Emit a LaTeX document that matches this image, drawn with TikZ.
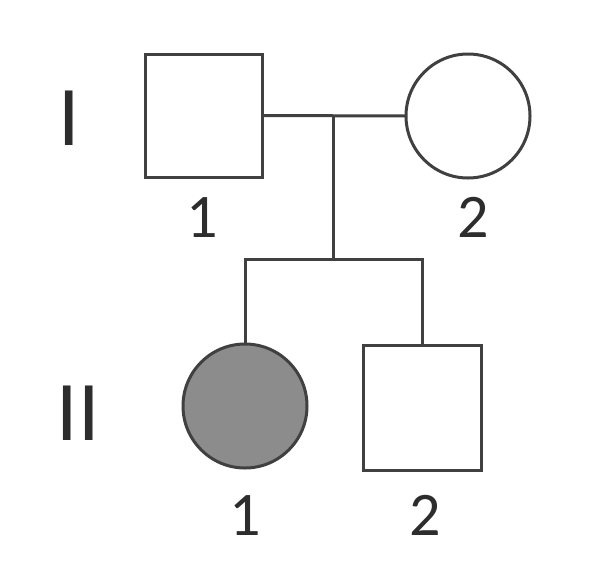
\documentclass[tikz,border=0pt]{standalone}
\usepackage{fontspec}
\setmainfont{Carlito}
\definecolor{linegray}{RGB}{64,64,64}
\definecolor{affgray}{RGB}{140,140,140}
\definecolor{textgray}{RGB}{45,45,45}

\begin{document}
\begin{tikzpicture}[x=1pt,y=-1pt,
    every node/.style={inner sep=0pt,outer sep=0pt},
    male/.style={draw=linegray,line width=3pt,rectangle,fill=white},
    female/.style={draw=linegray,line width=3pt,circle,fill=white,minimum size=124pt},
    link/.style={draw=linegray,line width=3pt},
    numlabel/.style={anchor=base,text=textgray,font=\fontsize{62}{62}\selectfont},
    genlabel/.style={anchor=base,text=textgray,font=\fontsize{85}{85}\selectfont}]
    \useasboundingbox[fill=white] (0,0) rectangle (591,579);
    % generation I
    \node[male,minimum width=117pt,minimum height=123pt] (m1) at (203.5,115.5) {};
    \node[female] (f2) at (468,116) {};
    % generation II
    \node[female,fill=affgray] (d1) at (245,406) {};
    \node[male,minimum width=118pt,minimum height=125pt] (s2) at (422,407.5) {};
    \coordinate (mid) at (333,116);
    \coordinate (sib) at (333,259);
    \draw[link] (m1.east) -- (f2.west);
    \draw[link] (mid) -- (sib);
    \draw[link] (d1.north) |- (sib) -| (s2.north);
    % labels
    \node[genlabel] (g1) at (69,145) {I};
    \node[genlabel] (g2) at (78,440) {II};
    \node[numlabel] (n11) at (202,237) {1};
    \node[numlabel] (n12) at (473,237) {2};
    \node[numlabel] (n21) at (245,535) {1};
    \node[numlabel] (n22) at (425,535) {2};
\end{tikzpicture}
\end{document}
